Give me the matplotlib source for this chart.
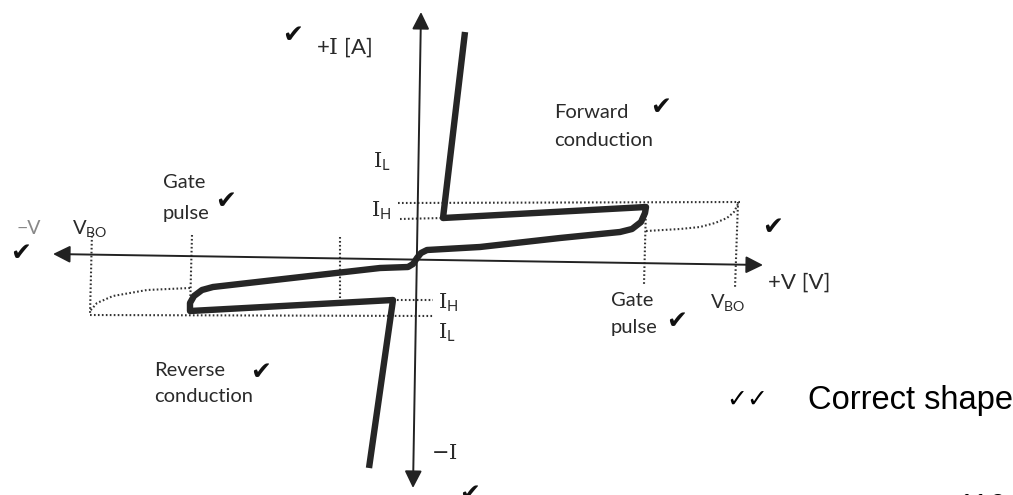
import matplotlib
matplotlib.use("Agg")
import matplotlib.pyplot as plt

plt.rcParams['font.family'] = ['Lato', 'DejaVu Sans']
plt.rcParams['mathtext.fontset'] = 'custom'
plt.rcParams['mathtext.rm'] = 'DejaVu Serif'
plt.rcParams['mathtext.sf'] = 'Lato'

W, H = 1013, 495

# ---- data (diagram coordinates, pixel space of the scanned figure) ----
# main thick characteristic (forward branch -> origin -> reverse branch)
curve_x = [465, 443, 646, 645, 641, 632, 620, 560, 480, 427, 421, 417, 413, 408,
           380, 213, 202, 194, 190, 190, 393, 369]
curve_y = [32, 218, 207, 213, 222, 229, 232, 238, 247, 250, 253, 258, 264, 267,
           268, 287, 290, 296, 303, 311, 300, 468]

# axes (tail -> tip)
vaxis_x = [413, 421]
vaxis_y = [488, 12]
haxis_x = [53, 763]
haxis_y = [254, 265]

# dotted guide lines: (x list, y list)
dotted = {
    'IH_upper_right': ([398, 740], [203, 202]),
    'IL_right':       ([400, 443], [219, 218]),
    'gate_right':     ([646, 644], [207, 284]),
    'vbo_right':      ([738, 735], [202, 288]),
    'leak_right':     ([646, 680, 700, 715, 727, 734, 738], [231, 229, 227, 223, 218, 212, 204]),
    'vbo_left':       ([92, 90], [232, 315]),
    'gate_left':      ([192, 190], [235, 310]),
    'mid_left':       ([340, 340], [237, 298]),
    'IL_left':        ([90, 433], [315, 316]),
    'IH_left':        ([393, 433], [300, 300]),
    'leak_left':      ([190, 147, 113, 97, 90], [288, 290, 296, 303, 311]),
}

# text labels: (x, y, text, size, color, ha)
labels = [
    (316, 47, r'+$\mathrm{I}$ [A]', 16, '#2a2a2a', 'left'),
    (373, 162, r'$\mathrm{I}_{\mathsf{L}}$', 15, '#2a2a2a', 'left'),
    (371, 211, r'$\mathrm{I}_{\mathsf{H}}$', 15, '#2a2a2a', 'left'),
    (163, 182, 'Gate', 14.5, '#2a2a2a', 'left'),
    (163, 214, 'pulse', 14.5, '#2a2a2a', 'left'),
    (72, 229, r'V$_{\mathsf{BO}}$', 14.5, '#2a2a2a', 'left'),
    (17, 229, '\u2212V', 14, '#888888', 'left'),
    (554, 113, 'Forward', 14.5, '#2a2a2a', 'left'),
    (554, 140, 'conduction', 14.5, '#2a2a2a', 'left'),
    (768, 283, '+V [V]', 16, '#2a2a2a', 'left'),
    (611, 300, 'Gate', 14.5, '#2a2a2a', 'left'),
    (611, 327, 'pulse', 14.5, '#2a2a2a', 'left'),
    (710, 303, r'V$_{\mathsf{BO}}$', 14.5, '#2a2a2a', 'left'),
    (438, 303, r'$\mathrm{I}_{\mathsf{H}}$', 15, '#2a2a2a', 'left'),
    (438, 333, r'$\mathrm{I}_{\mathsf{L}}$', 15, '#2a2a2a', 'left'),
    (154, 370, 'Reverse', 14.5, '#2a2a2a', 'left'),
    (154, 397, 'conduction', 14.5, '#2a2a2a', 'left'),
    (431, 453, r'$-\mathrm{I}$', 15, '#2a2a2a', 'left'),
]

ticks = [(293, 35), (226, 201), (21, 253), (661, 107), (773, 227),
         (677, 321), (261, 372), (470, 494)]

fig = plt.figure(figsize=(W / 100, H / 100), dpi=100)
ax = fig.add_axes([0, 0, 1, 1])
ax.set_xlim(0, W)
ax.set_ylim(H, 0)
ax.axis('off')

axis_col = '#222222'
ax.annotate('', xy=(vaxis_x[1], vaxis_y[1]), xytext=(vaxis_x[0], vaxis_y[0]),
            arrowprops=dict(arrowstyle='<|-|>', mutation_scale=26, lw=1.4,
                            color=axis_col, shrinkA=0, shrinkB=0))
ax.annotate('', xy=(haxis_x[1], haxis_y[1]), xytext=(haxis_x[0], haxis_y[0]),
            arrowprops=dict(arrowstyle='<|-|>', mutation_scale=26, lw=1.4,
                            color=axis_col, shrinkA=0, shrinkB=0))

for name, (xs, ys) in dotted.items():
    ax.plot(xs, ys, color='#333333', lw=1.5, linestyle=(0, (0.8, 1.1)),
            solid_capstyle='butt')

ax.plot(curve_x, curve_y, color='#262626', lw=4.6, solid_joinstyle='round',
        solid_capstyle='butt')

for x, y, t, s, c, ha in labels:
    ax.text(x, y, t, fontsize=s, color=c, ha=ha, va='center')

for x, y in ticks:
    ax.text(x, y, '\u2714', fontsize=18, color='#111111', ha='center', va='center',
            family='DejaVu Sans')

ax.text(747, 400, '\u2713\u2713', fontsize=18, color='#000000', ha='center',
        va='center', family='DejaVu Sans')
ax.text(808, 401, 'Correct shape', fontsize=23.5, color='#000000', ha='left',
        va='center', family='Liberation Sans')
ax.text(958, 493, '116', fontsize=22, color='#000000', ha='left', va='top',
        family='Liberation Sans')

fig.savefig('out.png', dpi=100)
